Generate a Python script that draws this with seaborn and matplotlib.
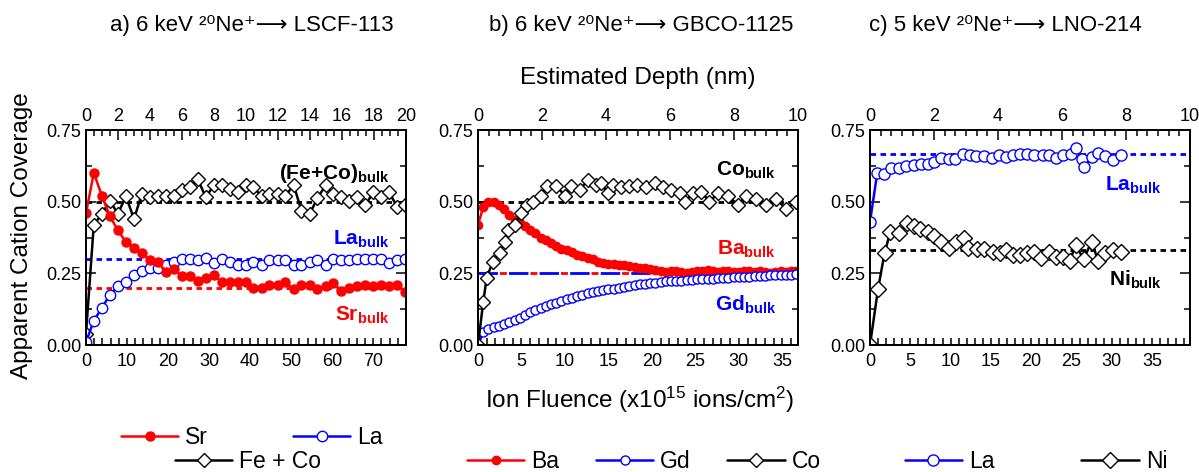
import matplotlib
matplotlib.use('Agg')
import matplotlib.pyplot as plt
import seaborn as sns
from matplotlib.ticker import MultipleLocator

# ---------------- panel a: LSCF-113 ----------------
fluence_a = [0, 1.9, 3.9, 5.8, 7.8, 9.7, 11.7, 13.6, 15.6, 17.5, 19.5, 21.4, 23.4, 25.3,
             27.2, 29.2, 31.1, 33.1, 35.0, 37.0, 38.9, 40.8, 42.8, 44.7, 46.7, 48.6, 50.6,
             52.5, 54.5, 56.4, 58.4, 60.3, 62.2, 64.2, 66.1, 68.1, 70.0, 72.0, 73.9, 75.9, 77.8]
sr_a = [0.46, 0.60, 0.52, 0.45, 0.40, 0.36, 0.34, 0.32, 0.295, 0.29, 0.255, 0.265, 0.24, 0.24,
        0.225, 0.235, 0.245, 0.22, 0.22, 0.22, 0.22, 0.20, 0.20, 0.21, 0.21, 0.22, 0.195,
        0.21, 0.21, 0.195, 0.205, 0.215, 0.19, 0.20, 0.205, 0.21, 0.205, 0.21, 0.205, 0.21, 0.185]
la_a = [0.01, 0.085, 0.13, 0.175, 0.205, 0.22, 0.245, 0.26, 0.27, 0.27, 0.28, 0.29, 0.30, 0.30,
        0.297, 0.305, 0.285, 0.30, 0.29, 0.28, 0.28, 0.29, 0.28, 0.295, 0.295, 0.295, 0.28,
        0.28, 0.29, 0.295, 0.28, 0.30, 0.295, 0.295, 0.30, 0.30, 0.30, 0.30, 0.285, 0.295, 0.30]
feco_a = [0.04, 0.42, 0.457, 0.504, 0.457, 0.52, 0.44, 0.527, 0.518, 0.519, 0.52, 0.52, 0.54,
          0.55, 0.58, 0.515, 0.557, 0.557, 0.545, 0.533, 0.557, 0.55, 0.52, 0.527, 0.527, 0.519,
          0.559, 0.469, 0.457, 0.512, 0.557, 0.527, 0.516, 0.504, 0.516, 0.487, 0.533, 0.516,
          0.533, 0.48, 0.49]
bulk_a = {'feco': 0.5, 'la': 0.3, 'sr': 0.2}

# ---------------- panel b: GBCO-1125 ----------------
fluence_b = [0, 0.6, 1.2, 1.8, 2.4, 3.0, 3.6, 4.2, 4.8, 5.4, 6.0, 6.6, 7.2, 7.8, 8.4, 9.0, 9.6,
             10.2, 10.8, 11.4, 12.0, 12.6, 13.2, 13.8, 14.4, 15.0, 15.6, 16.2, 16.8, 17.4, 18.0,
             18.6, 19.2, 19.8, 20.4, 21.0, 21.6, 22.2, 22.8, 23.4, 24.0, 24.6, 25.2, 25.8, 26.4,
             27.0, 27.6, 28.2, 28.8, 29.4, 30.0, 30.6, 31.2, 31.8, 32.4, 33.0, 33.6, 34.2, 34.8,
             35.4, 36.0, 36.6]
ba_b = [0.42, 0.48, 0.50, 0.50, 0.49, 0.475, 0.455, 0.435, 0.425, 0.415, 0.40, 0.39, 0.375, 0.365,
        0.355, 0.345, 0.335, 0.33, 0.325, 0.315, 0.31, 0.305, 0.30, 0.29, 0.285, 0.283, 0.282,
        0.28, 0.278, 0.277, 0.273, 0.27, 0.268, 0.265, 0.262, 0.258, 0.255, 0.258, 0.26, 0.255,
        0.252, 0.255, 0.26, 0.258, 0.262, 0.258, 0.255, 0.26, 0.258, 0.255, 0.255, 0.26, 0.258,
        0.255, 0.258, 0.255, 0.252, 0.255, 0.258, 0.255, 0.258, 0.26]
gd_b = [0.0, 0.045, 0.055, 0.062, 0.068, 0.075, 0.082, 0.088, 0.095, 0.105, 0.115, 0.122, 0.128,
        0.135, 0.142, 0.148, 0.154, 0.16, 0.165, 0.17, 0.175, 0.18, 0.184, 0.188, 0.192, 0.195,
        0.197, 0.20, 0.204, 0.207, 0.21, 0.212, 0.214, 0.216, 0.218, 0.22, 0.222, 0.223, 0.224,
        0.225, 0.226, 0.228, 0.229, 0.23, 0.231, 0.232, 0.233, 0.234, 0.235, 0.236, 0.237, 0.238,
        0.239, 0.24, 0.241, 0.242, 0.243, 0.244, 0.245, 0.246, 0.246, 0.247]
fluence_co_b = [0, 0.6, 1.0, 1.7, 2.5, 3.1, 3.4, 4.2, 5.0, 5.6, 6.3, 7.3, 7.9, 9.0, 10.0, 10.7,
                11.7, 12.6, 13.6, 14.2, 14.9, 15.5, 16.5, 17.4, 18.3, 19.3, 20.3, 21.3, 22.2,
                23.2, 23.8, 24.7, 25.7, 26.6, 27.6, 28.7, 29.9, 30.8, 32.0, 33.1, 34.3, 35.4, 36.6]
co_b = [0, 0.15, 0.235, 0.29, 0.32, 0.36, 0.40, 0.417, 0.46, 0.49, 0.50, 0.52, 0.555, 0.555,
        0.52, 0.555, 0.54, 0.575, 0.56, 0.565, 0.53, 0.56, 0.55, 0.555, 0.56, 0.55, 0.565, 0.55,
        0.54, 0.53, 0.50, 0.53, 0.535, 0.50, 0.53, 0.52, 0.49, 0.52, 0.51, 0.49, 0.51, 0.475, 0.50]
bulk_b = {'co': 0.5, 'ba_gd': 0.25}

# ---------------- panel c: LNO-214 ----------------
fluence_la_c = [0, 0.9, 1.7, 2.6, 3.6, 4.5, 5.4, 6.3, 7.2, 8.0, 8.8, 9.8, 10.6, 11.5, 12.4, 13.2,
                14.1, 15.1, 16.0, 16.9, 17.8, 18.6, 19.5, 20.4, 21.4, 22.2, 23.1, 24.0, 24.9,
                25.6, 26.3, 26.6, 27.5, 28.3, 29.2, 30.2, 31.1]
la_c = [0.43, 0.60, 0.595, 0.618, 0.618, 0.625, 0.627, 0.633, 0.633, 0.639, 0.653, 0.65, 0.65,
        0.665, 0.662, 0.66, 0.66, 0.653, 0.662, 0.656, 0.662, 0.665, 0.665, 0.662, 0.662, 0.662,
        0.653, 0.662, 0.666, 0.686, 0.65, 0.62, 0.656, 0.67, 0.66, 0.647, 0.662]
fluence_ni_c = [0, 1.0, 1.8, 2.5, 3.6, 4.6, 5.4, 6.2, 7.2, 8.0, 8.8, 9.8, 10.7, 11.6, 12.2, 13.3,
                14.1, 15.2, 16.1, 16.9, 17.8, 18.6, 19.5, 20.4, 21.2, 22.2, 23.1, 24.0, 24.8,
                25.5, 26.5, 27.5, 28.3, 29.2, 30.2, 31.1]
ni_c = [0.0, 0.196, 0.32, 0.393, 0.39, 0.426, 0.416, 0.404, 0.393, 0.381, 0.36, 0.34, 0.361,
        0.375, 0.34, 0.336, 0.334, 0.325, 0.32, 0.33, 0.314, 0.313, 0.322, 0.326, 0.305, 0.326,
        0.308, 0.308, 0.293, 0.349, 0.30, 0.361, 0.293, 0.32, 0.332, 0.325]
bulk_c = {'la': 0.667, 'ni': 0.333}

# plain unicode so that missing glyphs fall back to DejaVu Sans
titles = ['a) 6 keV \u00b2\u2070Ne\u207a\u27f6 LSCF-113',
          'b) 6 keV \u00b2\u2070Ne\u207a\u27f6 GBCO-1125',
          'c) 5 keV \u00b2\u2070Ne\u207a\u27f6 LNO-214']

RED, BLUE, BLACK = '#ff0000', '#0000ff', '#000000'

sns.set_theme(style='ticks')
plt.rcParams['font.family'] = ['Liberation Sans', 'DejaVu Sans']
plt.rcParams['mathtext.fontset'] = 'custom'
plt.rcParams['mathtext.rm'] = 'Liberation Sans'
plt.rcParams['mathtext.bf'] = 'Liberation Sans:bold'
plt.rcParams['mathtext.it'] = 'Liberation Sans:italic'
plt.rcParams['axes.linewidth'] = 1.3
for k in ['text.color', 'axes.labelcolor', 'xtick.color', 'ytick.color', 'axes.edgecolor']:
    plt.rcParams[k] = 'black'

fig = plt.figure(figsize=(11.99, 4.72), dpi=100)


def make_panel(left, xmax, xmajor, xminor, dmax):
    ax = fig.add_axes([left, 0.269, 0.2669, 0.4555])
    ax.set_xlim(0, xmax)
    ax.set_ylim(0, 0.75)
    ax.xaxis.set_major_locator(MultipleLocator(xmajor))
    ax.xaxis.set_minor_locator(MultipleLocator(xminor))
    ax.yaxis.set_major_locator(MultipleLocator(0.25))
    ax.yaxis.set_minor_locator(MultipleLocator(0.125))
    ax.yaxis.set_major_formatter(plt.FormatStrFormatter('%.2f'))
    ax.tick_params(axis='x', which='both', direction='in', length=5, width=1.1,
                   labelsize=13, pad=6, top=False)
    ax.tick_params(axis='y', which='major', direction='in', length=7, width=1.1,
                   labelsize=13, right=True)
    ax.tick_params(axis='y', which='minor', direction='in', length=4, width=1.1, right=True)
    ax.set_xlabel('')
    ax.set_ylabel('')
    top = ax.twiny()
    top.set_xlim(0, dmax)
    top.xaxis.set_major_locator(MultipleLocator(2))
    top.xaxis.set_minor_locator(MultipleLocator(0.5 if dmax > 10 else 1 / 3))
    top.tick_params(axis='x', which='major', direction='in', length=7, width=1.1, labelsize=13)
    top.tick_params(axis='x', which='minor', direction='in', length=4, width=1.1)
    return ax


def series(ax, x, y, color, marker, filled, ms, label):
    sns.lineplot(x=x, y=y, ax=ax, color=color, lw=1.8, marker=marker, markersize=ms,
                 markerfacecolor=color if filled else 'white', markeredgecolor=color,
                 markeredgewidth=1.0, label=label, sort=False, estimator=None)


def bulk(ax, xmax, y, color, ls=(0, (2, 1.6))):
    ax.plot([0, xmax], [y, y], color=color, lw=2, ls=ls, zorder=1)


def note(ax, x, y, name, color):
    ax.text(x, y, r'$\mathbf{%s}_{\mathbf{bulk}}$' % name, color=color, fontsize=15,
            ha='right', va='center')


# panel a
ax_a = make_panel(86 / 1199, 78, 10, 2, 20)
bulk(ax_a, 78, bulk_a['feco'], BLACK)
bulk(ax_a, 78, bulk_a['la'], BLUE)
bulk(ax_a, 78, bulk_a['sr'], RED)
series(ax_a, fluence_a, feco_a, BLACK, 'D', False, 7.5, 'Fe + Co')
series(ax_a, fluence_a, la_a, BLUE, 'o', False, 7.5, 'La')
series(ax_a, fluence_a, sr_a, RED, 'o', True, 6.5, 'Sr')
note(ax_a, 74, 0.60, '(Fe{+}Co)', BLACK)
note(ax_a, 74, 0.37, 'La', BLUE)
note(ax_a, 74, 0.105, 'Sr', RED)

# panel b
ax_b = make_panel(478 / 1199, 36.8, 5, 1, 10)
bulk(ax_b, 36.8, bulk_b['co'], BLACK)
ax_b.plot([0, 36.8], [bulk_b['ba_gd']] * 2, color=BLUE, lw=2, ls=(0, (7, 4)), zorder=1)
ax_b.plot([0, 36.8], [bulk_b['ba_gd']] * 2, color=RED, lw=2, ls=(3.3, (2.5, 8.5)), zorder=1)
series(ax_b, fluence_b, ba_b, RED, 'o', True, 6, 'Ba')
series(ax_b, fluence_b, gd_b, BLUE, 'o', False, 6.5, 'Gd')
series(ax_b, fluence_co_b, co_b, BLACK, 'D', False, 7, 'Co')
note(ax_b, 34.3, 0.61, 'Co', BLACK)
note(ax_b, 34.3, 0.335, 'Ba', RED)
note(ax_b, 34.3, 0.14, 'Gd', BLUE)

# panel c
ax_c = make_panel(870 / 1199, 39.7, 5, 1, 10)
bulk(ax_c, 39.7, bulk_c['la'], BLUE)
bulk(ax_c, 39.7, bulk_c['ni'], BLACK)
series(ax_c, fluence_la_c, la_c, BLUE, 'o', False, 8, 'La')
series(ax_c, fluence_ni_c, ni_c, BLACK, 'D', False, 8, 'Ni')
note(ax_c, 36.2, 0.557, 'La', BLUE)
note(ax_c, 36.2, 0.228, 'Ni', BLACK)

# legends
leg_kw = dict(frameon=False, fontsize=16.5, handlelength=2.5, handletextpad=0.3,
              loc='center', bbox_transform=fig.transFigure, borderpad=0.1)
h, l = ax_a.get_legend_handles_labels()
d = dict(zip(l, h))
ax_a.legend_.remove()
fig.legend([d['Sr'], d['La']], ['Sr', 'La'], ncol=2, columnspacing=3.7,
           bbox_to_anchor=(0.210, 0.074), **leg_kw)
fig.legend([d['Fe + Co']], ['Fe + Co'], bbox_to_anchor=(0.207, 0.022), **leg_kw)

h, l = ax_b.get_legend_handles_labels()
d = dict(zip(l, h))
ax_b.legend_.remove()
fig.legend([d['Ba'], d['Gd'], d['Co']], ['Ba', 'Gd', 'Co'], ncol=3, columnspacing=1.6,
           bbox_to_anchor=(0.537, 0.022), **leg_kw)

h, l = ax_c.get_legend_handles_labels()
d = dict(zip(l, h))
ax_c.legend_.remove()
fig.legend([d['La'], d['Ni']], ['La', 'Ni'], ncol=2, columnspacing=3.8,
           bbox_to_anchor=(0.864, 0.022), **leg_kw)

# titles and axis labels
for cx, t in zip([252, 641, 1005], titles):
    fig.text(cx / 1199, 0.947, t, ha='center', va='center', fontsize=16)
fig.text(638 / 1199, 0.835, 'Estimated Depth (nm)', ha='center', va='center', fontsize=17.5)
fig.text(640 / 1199, 0.153, 'Ion Fluence (x10$^{15}$ ions/cm$^{2}$)', ha='center',
         va='center', fontsize=17.5)
fig.text(22 / 1199, 0.50, 'Apparent Cation Coverage', rotation=90, ha='center',
         va='center', fontsize=17.5)

fig.savefig('out.png', dpi=100)
